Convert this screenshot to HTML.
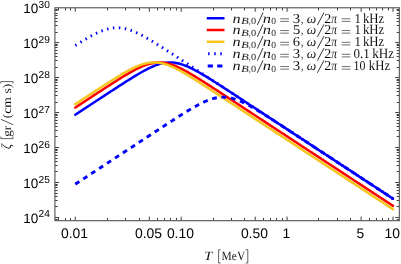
<!DOCTYPE html>
<html><head><meta charset="utf-8"><title>plot</title>
<style>html,body{margin:0;padding:0;background:#fff}svg{display:block}</style>
</head><body>
<svg width="401" height="264" viewBox="0 0 401 264">
<rect width="401" height="264" fill="#fff"/>
<g fill="none" stroke-width="2.50" stroke-linejoin="round">
<path d="M75.30,114.72 L76.62,113.85 L77.95,112.99 L79.27,112.12 L80.59,111.25 L81.92,110.38 L83.24,109.51 L84.57,108.64 L85.89,107.77 L87.21,106.91 L88.54,106.04 L89.86,105.17 L91.18,104.30 L92.51,103.43 L93.83,102.56 L95.16,101.70 L96.48,100.83 L97.80,99.96 L99.13,99.09 L100.45,98.23 L101.78,97.36 L103.10,96.49 L104.42,95.63 L105.75,94.76 L107.07,93.89 L108.39,93.03 L109.72,92.17 L111.04,91.30 L112.37,90.44 L113.69,89.58 L115.01,88.72 L116.34,87.86 L117.66,87.00 L118.98,86.15 L120.31,85.29 L121.63,84.44 L122.95,83.59 L124.28,82.75 L125.60,81.90 L126.93,81.06 L128.25,80.23 L129.57,79.40 L130.90,78.57 L132.22,77.75 L133.55,76.93 L134.87,76.13 L136.19,75.33 L137.52,74.54 L138.84,73.76 L140.16,72.99 L141.49,72.23 L142.81,71.49 L144.13,70.76 L145.46,70.05 L146.78,69.36 L148.11,68.69 L149.43,68.04 L150.75,67.41 L152.08,66.81 L153.40,66.24 L154.73,65.70 L156.05,65.20 L157.37,64.72 L158.70,64.29 L160.02,63.90 L161.34,63.55 L162.67,63.25 L163.99,62.99 L165.31,62.78 L166.64,62.62 L167.96,62.51 L169.29,62.45 L170.61,62.44 L171.93,62.49 L173.26,62.58 L174.58,62.73 L175.91,62.93 L177.23,63.17 L178.55,63.47 L179.88,63.80 L181.20,64.18 L182.52,64.61 L183.85,65.07 L185.17,65.56 L186.50,66.09 L187.82,66.66 L189.14,67.25 L190.47,67.87 L191.79,68.51 L193.11,69.18 L194.44,69.86 L195.76,70.57 L197.08,71.29 L198.41,72.03 L199.73,72.79 L201.06,73.55 L202.38,74.33 L203.70,75.12 L205.03,75.91 L206.35,76.72 L207.68,77.53 L209.00,78.35 L210.32,79.17 L211.65,80.00 L212.97,80.84 L214.29,81.68 L215.62,82.52 L216.94,83.36 L218.26,84.21 L219.59,85.06 L220.91,85.92 L222.24,86.77 L223.56,87.63 L224.88,88.49 L226.21,89.35 L227.53,90.21 L228.86,91.07 L230.18,91.93 L231.50,92.80 L232.83,93.66 L234.15,94.53 L235.47,95.39 L236.80,96.26 L238.12,97.13 L239.44,97.99 L240.77,98.86 L242.09,99.73 L243.42,100.60 L244.74,101.46 L246.06,102.33 L247.39,103.20 L248.71,104.07 L250.04,104.94 L251.36,105.80 L252.68,106.67 L254.01,107.54 L255.33,108.41 L256.65,109.28 L257.98,110.15 L259.30,111.02 L260.62,111.88 L261.95,112.75 L263.27,113.62 L264.60,114.49 L265.92,115.36 L267.24,116.23 L268.57,117.10 L269.89,117.96 L271.22,118.83 L272.54,119.70 L273.86,120.57 L275.19,121.44 L276.51,122.31 L277.83,123.18 L279.16,124.04 L280.48,124.91 L281.81,125.78 L283.13,126.65 L284.45,127.52 L285.78,128.39 L287.10,129.25 L288.42,130.12 L289.75,130.99 L291.07,131.86 L292.39,132.73 L293.72,133.60 L295.04,134.46 L296.37,135.33 L297.69,136.20 L299.01,137.07 L300.34,137.94 L301.66,138.81 L302.99,139.67 L304.31,140.54 L305.63,141.41 L306.96,142.28 L308.28,143.15 L309.60,144.01 L310.93,144.88 L312.25,145.75 L313.57,146.62 L314.90,147.49 L316.22,148.36 L317.55,149.22 L318.87,150.09 L320.19,150.96 L321.52,151.83 L322.84,152.70 L324.17,153.56 L325.49,154.43 L326.81,155.30 L328.14,156.17 L329.46,157.04 L330.78,157.90 L332.11,158.77 L333.43,159.64 L334.76,160.51 L336.08,161.38 L337.40,162.24 L338.73,163.11 L340.05,163.98 L341.37,164.85 L342.70,165.72 L344.02,166.58 L345.35,167.45 L346.67,168.32 L347.99,169.19 L349.32,170.06 L350.64,170.92 L351.96,171.79 L353.29,172.66 L354.61,173.53 L355.94,174.40 L357.26,175.26 L358.58,176.13 L359.91,177.00 L361.23,177.87 L362.55,178.74 L363.88,179.60 L365.20,180.47 L366.53,181.34 L367.85,182.21 L369.17,183.08 L370.50,183.94 L371.82,184.81 L373.14,185.68 L374.47,186.55 L375.79,187.42 L377.12,188.28 L378.44,189.15 L379.76,190.02 L381.09,190.89 L382.41,191.76 L383.73,192.62 L385.06,193.49 L386.38,194.36 L387.71,195.23 L389.03,196.10 L390.35,196.96 L391.68,197.83 L393.00,198.70" stroke="#0000ff" stroke-linecap="round"/>
<path d="M75.30,107.56 L76.62,106.69 L77.95,105.83 L79.27,104.96 L80.59,104.09 L81.92,103.22 L83.24,102.35 L84.57,101.49 L85.89,100.62 L87.21,99.75 L88.54,98.88 L89.86,98.01 L91.18,97.15 L92.51,96.28 L93.83,95.42 L95.16,94.55 L96.48,93.68 L97.80,92.82 L99.13,91.96 L100.45,91.09 L101.78,90.23 L103.10,89.37 L104.42,88.51 L105.75,87.65 L107.07,86.79 L108.39,85.94 L109.72,85.09 L111.04,84.23 L112.37,83.39 L113.69,82.54 L115.01,81.70 L116.34,80.86 L117.66,80.02 L118.98,79.19 L120.31,78.37 L121.63,77.55 L122.95,76.74 L124.28,75.93 L125.60,75.14 L126.93,74.35 L128.25,73.57 L129.57,72.80 L130.90,72.05 L132.22,71.31 L133.55,70.59 L134.87,69.88 L136.19,69.19 L137.52,68.53 L138.84,67.88 L140.16,67.26 L141.49,66.67 L142.81,66.11 L144.13,65.58 L145.46,65.08 L146.78,64.62 L148.11,64.19 L149.43,63.81 L150.75,63.47 L152.08,63.18 L153.40,62.93 L154.73,62.73 L156.05,62.59 L157.37,62.49 L158.70,62.44 L160.02,62.45 L161.34,62.51 L162.67,62.61 L163.99,62.77 L165.31,62.98 L166.64,63.24 L167.96,63.54 L169.29,63.89 L170.61,64.28 L171.93,64.71 L173.26,65.18 L174.58,65.69 L175.91,66.23 L177.23,66.80 L178.55,67.40 L179.88,68.02 L181.20,68.67 L182.52,69.34 L183.85,70.03 L185.17,70.74 L186.50,71.47 L187.82,72.21 L189.14,72.97 L190.47,73.74 L191.79,74.52 L193.11,75.31 L194.44,76.11 L195.76,76.91 L197.08,77.73 L198.41,78.55 L199.73,79.37 L201.06,80.21 L202.38,81.04 L203.70,81.88 L205.03,82.72 L206.35,83.57 L207.68,84.42 L209.00,85.27 L210.32,86.12 L211.65,86.98 L212.97,87.84 L214.29,88.70 L215.62,89.56 L216.94,90.42 L218.26,91.28 L219.59,92.14 L220.91,93.01 L222.24,93.87 L223.56,94.74 L224.88,95.60 L226.21,96.47 L227.53,97.34 L228.86,98.20 L230.18,99.07 L231.50,99.94 L232.83,100.81 L234.15,101.67 L235.47,102.54 L236.80,103.41 L238.12,104.28 L239.44,105.15 L240.77,106.02 L242.09,106.88 L243.42,107.75 L244.74,108.62 L246.06,109.49 L247.39,110.36 L248.71,111.23 L250.04,112.10 L251.36,112.96 L252.68,113.83 L254.01,114.70 L255.33,115.57 L256.65,116.44 L257.98,117.31 L259.30,118.18 L260.62,119.04 L261.95,119.91 L263.27,120.78 L264.60,121.65 L265.92,122.52 L267.24,123.39 L268.57,124.25 L269.89,125.12 L271.22,125.99 L272.54,126.86 L273.86,127.73 L275.19,128.60 L276.51,129.47 L277.83,130.33 L279.16,131.20 L280.48,132.07 L281.81,132.94 L283.13,133.81 L284.45,134.67 L285.78,135.54 L287.10,136.41 L288.42,137.28 L289.75,138.15 L291.07,139.02 L292.39,139.88 L293.72,140.75 L295.04,141.62 L296.37,142.49 L297.69,143.36 L299.01,144.22 L300.34,145.09 L301.66,145.96 L302.99,146.83 L304.31,147.70 L305.63,148.57 L306.96,149.43 L308.28,150.30 L309.60,151.17 L310.93,152.04 L312.25,152.91 L313.57,153.77 L314.90,154.64 L316.22,155.51 L317.55,156.38 L318.87,157.25 L320.19,158.11 L321.52,158.98 L322.84,159.85 L324.17,160.72 L325.49,161.59 L326.81,162.45 L328.14,163.32 L329.46,164.19 L330.78,165.06 L332.11,165.93 L333.43,166.79 L334.76,167.66 L336.08,168.53 L337.40,169.40 L338.73,170.27 L340.05,171.14 L341.37,172.00 L342.70,172.87 L344.02,173.74 L345.35,174.61 L346.67,175.48 L347.99,176.34 L349.32,177.21 L350.64,178.08 L351.96,178.95 L353.29,179.82 L354.61,180.68 L355.94,181.55 L357.26,182.42 L358.58,183.29 L359.91,184.16 L361.23,185.02 L362.55,185.89 L363.88,186.76 L365.20,187.63 L366.53,188.50 L367.85,189.36 L369.17,190.23 L370.50,191.10 L371.82,191.97 L373.14,192.84 L374.47,193.70 L375.79,194.57 L377.12,195.44 L378.44,196.31 L379.76,197.18 L381.09,198.04 L382.41,198.91 L383.73,199.78 L385.06,200.65 L386.38,201.52 L387.71,202.38 L389.03,203.25 L390.35,204.12 L391.68,204.99 L393.00,205.86" stroke="#ff0000" stroke-linecap="round"/>
<path d="M75.30,104.17 L76.62,103.30 L77.95,102.43 L79.27,101.56 L80.59,100.69 L81.92,99.83 L83.24,98.96 L84.57,98.09 L85.89,97.23 L87.21,96.36 L88.54,95.49 L89.86,94.63 L91.18,93.76 L92.51,92.90 L93.83,92.03 L95.16,91.17 L96.48,90.31 L97.80,89.45 L99.13,88.59 L100.45,87.73 L101.78,86.87 L103.10,86.02 L104.42,85.16 L105.75,84.31 L107.07,83.46 L108.39,82.62 L109.72,81.77 L111.04,80.93 L112.37,80.10 L113.69,79.27 L115.01,78.44 L116.34,77.62 L117.66,76.81 L118.98,76.00 L120.31,75.21 L121.63,74.42 L122.95,73.64 L124.28,72.87 L125.60,72.12 L126.93,71.38 L128.25,70.65 L129.57,69.94 L130.90,69.25 L132.22,68.59 L133.55,67.94 L134.87,67.32 L136.19,66.72 L137.52,66.16 L138.84,65.62 L140.16,65.12 L141.49,64.66 L142.81,64.23 L144.13,63.84 L145.46,63.50 L146.78,63.20 L148.11,62.95 L149.43,62.75 L150.75,62.60 L152.08,62.49 L153.40,62.44 L154.73,62.45 L156.05,62.50 L157.37,62.60 L158.70,62.76 L160.02,62.96 L161.34,63.21 L162.67,63.51 L163.99,63.86 L165.31,64.25 L166.64,64.67 L167.96,65.14 L169.29,65.64 L170.61,66.18 L171.93,66.74 L173.26,67.34 L174.58,67.96 L175.91,68.61 L177.23,69.28 L178.55,69.97 L179.88,70.68 L181.20,71.41 L182.52,72.15 L183.85,72.90 L185.17,73.67 L186.50,74.45 L187.82,75.24 L189.14,76.04 L190.47,76.84 L191.79,77.66 L193.11,78.47 L194.44,79.30 L195.76,80.13 L197.08,80.97 L198.41,81.81 L199.73,82.65 L201.06,83.49 L202.38,84.34 L203.70,85.19 L205.03,86.05 L206.35,86.90 L207.68,87.76 L209.00,88.62 L210.32,89.48 L211.65,90.34 L212.97,91.20 L214.29,92.07 L215.62,92.93 L216.94,93.80 L218.26,94.66 L219.59,95.53 L220.91,96.39 L222.24,97.26 L223.56,98.13 L224.88,98.99 L226.21,99.86 L227.53,100.73 L228.86,101.60 L230.18,102.46 L231.50,103.33 L232.83,104.20 L234.15,105.07 L235.47,105.94 L236.80,106.81 L238.12,107.67 L239.44,108.54 L240.77,109.41 L242.09,110.28 L243.42,111.15 L244.74,112.02 L246.06,112.89 L247.39,113.75 L248.71,114.62 L250.04,115.49 L251.36,116.36 L252.68,117.23 L254.01,118.10 L255.33,118.97 L256.65,119.83 L257.98,120.70 L259.30,121.57 L260.62,122.44 L261.95,123.31 L263.27,124.18 L264.60,125.05 L265.92,125.91 L267.24,126.78 L268.57,127.65 L269.89,128.52 L271.22,129.39 L272.54,130.26 L273.86,131.12 L275.19,131.99 L276.51,132.86 L277.83,133.73 L279.16,134.60 L280.48,135.47 L281.81,136.33 L283.13,137.20 L284.45,138.07 L285.78,138.94 L287.10,139.81 L288.42,140.67 L289.75,141.54 L291.07,142.41 L292.39,143.28 L293.72,144.15 L295.04,145.02 L296.37,145.88 L297.69,146.75 L299.01,147.62 L300.34,148.49 L301.66,149.36 L302.99,150.22 L304.31,151.09 L305.63,151.96 L306.96,152.83 L308.28,153.70 L309.60,154.56 L310.93,155.43 L312.25,156.30 L313.57,157.17 L314.90,158.04 L316.22,158.90 L317.55,159.77 L318.87,160.64 L320.19,161.51 L321.52,162.38 L322.84,163.25 L324.17,164.11 L325.49,164.98 L326.81,165.85 L328.14,166.72 L329.46,167.59 L330.78,168.45 L332.11,169.32 L333.43,170.19 L334.76,171.06 L336.08,171.93 L337.40,172.79 L338.73,173.66 L340.05,174.53 L341.37,175.40 L342.70,176.27 L344.02,177.13 L345.35,178.00 L346.67,178.87 L347.99,179.74 L349.32,180.61 L350.64,181.47 L351.96,182.34 L353.29,183.21 L354.61,184.08 L355.94,184.95 L357.26,185.81 L358.58,186.68 L359.91,187.55 L361.23,188.42 L362.55,189.29 L363.88,190.15 L365.20,191.02 L366.53,191.89 L367.85,192.76 L369.17,193.63 L370.50,194.49 L371.82,195.36 L373.14,196.23 L374.47,197.10 L375.79,197.97 L377.12,198.83 L378.44,199.70 L379.76,200.57 L381.09,201.44 L382.41,202.31 L383.73,203.17 L385.06,204.04 L386.38,204.91 L387.71,205.78 L389.03,206.65 L390.35,207.51 L391.68,208.38 L393.00,209.25" stroke="#f7c61e" stroke-linecap="round"/>
<path d="M75.30,45.51 L76.62,44.68 L77.95,43.85 L79.27,43.03 L80.59,42.21 L81.92,41.41 L83.24,40.61 L84.57,39.82 L85.89,39.04 L87.21,38.27 L88.54,37.51 L89.86,36.77 L91.18,36.04 L92.51,35.33 L93.83,34.64 L95.16,33.97 L96.48,33.32 L97.80,32.69 L99.13,32.09 L100.45,31.52 L101.78,30.98 L103.10,30.48 L104.42,30.00 L105.75,29.57 L107.07,29.18 L108.39,28.83 L109.72,28.53 L111.04,28.27 L112.37,28.06 L113.69,27.90 L115.01,27.79 L116.34,27.73 L117.66,27.72 L118.98,27.77 L120.31,27.86 L121.63,28.01 L122.95,28.21 L124.28,28.45 L125.60,28.75 L126.93,29.08 L128.25,29.46 L129.57,29.89 L130.90,30.35 L132.22,30.84 L133.55,31.37 L134.87,31.94 L136.19,32.53 L137.52,33.15 L138.84,33.79 L140.16,34.46 L141.49,35.14 L142.81,35.85 L144.13,36.57 L145.46,37.31 L146.78,38.07 L148.11,38.83 L149.43,39.61 L150.75,40.40 L152.08,41.19 L153.40,42.00 L154.73,42.81 L156.05,43.63 L157.37,44.45 L158.70,45.28 L160.02,46.12 L161.34,46.96 L162.67,47.80 L163.99,48.64 L165.31,49.49 L166.64,50.34 L167.96,51.20 L169.29,52.05 L170.61,52.91 L171.93,53.77 L173.26,54.63 L174.58,55.49 L175.91,56.35 L177.23,57.21 L178.55,58.08 L179.88,58.94 L181.20,59.81 L182.52,60.67 L183.85,61.54 L185.17,62.41 L186.50,63.27 L187.82,64.14 L189.14,65.01 L190.47,65.88 L191.79,66.74 L193.11,67.61 L194.44,68.48 L195.76,69.35 L197.08,70.22 L198.41,71.08 L199.73,71.95 L201.06,72.82 L202.38,73.69 L203.70,74.56 L205.03,75.43 L206.35,76.30 L207.68,77.16 L209.00,78.03 L210.32,78.90 L211.65,79.77 L212.97,80.64 L214.29,81.51 L215.62,82.38 L216.94,83.24 L218.26,84.11 L219.59,84.98 L220.91,85.85 L222.24,86.72 L223.56,87.59 L224.88,88.46 L226.21,89.32 L227.53,90.19 L228.86,91.06 L230.18,91.93 L231.50,92.80 L232.83,93.67 L234.15,94.53 L235.47,95.40 L236.80,96.27 L238.12,97.14 L239.44,98.01 L240.77,98.88 L242.09,99.74 L243.42,100.61 L244.74,101.48 L246.06,102.35 L247.39,103.22 L248.71,104.09 L250.04,104.95 L251.36,105.82 L252.68,106.69 L254.01,107.56 L255.33,108.43 L256.65,109.29 L257.98,110.16 L259.30,111.03 L260.62,111.90 L261.95,112.77 L263.27,113.64 L264.60,114.50 L265.92,115.37 L267.24,116.24 L268.57,117.11 L269.89,117.98 L271.22,118.84 L272.54,119.71 L273.86,120.58 L275.19,121.45 L276.51,122.32 L277.83,123.18 L279.16,124.05 L280.48,124.92 L281.81,125.79 L283.13,126.66 L284.45,127.52 L285.78,128.39 L287.10,129.26 L288.42,130.13 L289.75,131.00 L291.07,131.86 L292.39,132.73 L293.72,133.60 L295.04,134.47 L296.37,135.34 L297.69,136.20 L299.01,137.07 L300.34,137.94 L301.66,138.81 L302.99,139.68 L304.31,140.54 L305.63,141.41 L306.96,142.28 L308.28,143.15 L309.60,144.02 L310.93,144.88 L312.25,145.75 L313.57,146.62 L314.90,147.49 L316.22,148.36 L317.55,149.22 L318.87,150.09 L320.19,150.96 L321.52,151.83 L322.84,152.70 L324.17,153.56 L325.49,154.43 L326.81,155.30 L328.14,156.17 L329.46,157.04 L330.78,157.90 L332.11,158.77 L333.43,159.64 L334.76,160.51 L336.08,161.38 L337.40,162.24 L338.73,163.11 L340.05,163.98 L341.37,164.85 L342.70,165.72 L344.02,166.58 L345.35,167.45 L346.67,168.32 L347.99,169.19 L349.32,170.06 L350.64,170.92 L351.96,171.79 L353.29,172.66 L354.61,173.53 L355.94,174.40 L357.26,175.26 L358.58,176.13 L359.91,177.00 L361.23,177.87 L362.55,178.74 L363.88,179.60 L365.20,180.47 L366.53,181.34 L367.85,182.21 L369.17,183.08 L370.50,183.94 L371.82,184.81 L373.14,185.68 L374.47,186.55 L375.79,187.42 L377.12,188.28 L378.44,189.15 L379.76,190.02 L381.09,190.89 L382.41,191.76 L383.73,192.63 L385.06,193.49 L386.38,194.36 L387.71,195.23 L389.03,196.10 L390.35,196.97 L391.68,197.83 L393.00,198.70" stroke="#0000ff" stroke-dasharray="1.5 4.47" stroke-width="2.9"/>
<path d="M75.30,184.18 L76.62,183.31 L77.95,182.44 L79.27,181.57 L80.59,180.70 L81.92,179.83 L83.24,178.97 L84.57,178.10 L85.89,177.23 L87.21,176.36 L88.54,175.49 L89.86,174.63 L91.18,173.76 L92.51,172.89 L93.83,172.02 L95.16,171.15 L96.48,170.28 L97.80,169.42 L99.13,168.55 L100.45,167.68 L101.78,166.81 L103.10,165.94 L104.42,165.08 L105.75,164.21 L107.07,163.34 L108.39,162.47 L109.72,161.60 L111.04,160.73 L112.37,159.86 L113.69,159.00 L115.01,158.13 L116.34,157.26 L117.66,156.39 L118.98,155.52 L120.31,154.65 L121.63,153.79 L122.95,152.92 L124.28,152.05 L125.60,151.18 L126.93,150.31 L128.25,149.44 L129.57,148.57 L130.90,147.71 L132.22,146.84 L133.55,145.97 L134.87,145.10 L136.19,144.23 L137.52,143.36 L138.84,142.49 L140.16,141.63 L141.49,140.76 L142.81,139.89 L144.13,139.02 L145.46,138.15 L146.78,137.28 L148.11,136.42 L149.43,135.55 L150.75,134.68 L152.08,133.81 L153.40,132.95 L154.73,132.08 L156.05,131.21 L157.37,130.35 L158.70,129.48 L160.02,128.61 L161.34,127.75 L162.67,126.89 L163.99,126.02 L165.31,125.16 L166.64,124.30 L167.96,123.44 L169.29,122.58 L170.61,121.72 L171.93,120.87 L173.26,120.01 L174.58,119.16 L175.91,118.31 L177.23,117.47 L178.55,116.62 L179.88,115.78 L181.20,114.95 L182.52,114.12 L183.85,113.29 L185.17,112.47 L186.50,111.65 L187.82,110.85 L189.14,110.05 L190.47,109.26 L191.79,108.48 L193.11,107.71 L194.44,106.95 L195.76,106.21 L197.08,105.48 L198.41,104.77 L199.73,104.08 L201.06,103.41 L202.38,102.76 L203.70,102.13 L205.03,101.53 L206.35,100.96 L207.68,100.42 L209.00,99.92 L210.32,99.44 L211.65,99.01 L212.97,98.62 L214.29,98.27 L215.62,97.97 L216.94,97.71 L218.26,97.50 L219.59,97.34 L220.91,97.23 L222.24,97.17 L223.56,97.16 L224.88,97.21 L226.21,97.30 L227.53,97.45 L228.86,97.65 L230.18,97.89 L231.50,98.19 L232.83,98.52 L234.15,98.90 L235.47,99.33 L236.80,99.79 L238.12,100.28 L239.44,100.81 L240.77,101.38 L242.09,101.97 L243.42,102.59 L244.74,103.23 L246.06,103.90 L247.39,104.58 L248.71,105.29 L250.04,106.01 L251.36,106.75 L252.68,107.51 L254.01,108.27 L255.33,109.05 L256.65,109.84 L257.98,110.63 L259.30,111.44 L260.62,112.25 L261.95,113.07 L263.27,113.89 L264.60,114.72 L265.92,115.56 L267.24,116.40 L268.57,117.24 L269.89,118.08 L271.22,118.93 L272.54,119.78 L273.86,120.64 L275.19,121.49 L276.51,122.35 L277.83,123.21 L279.16,124.07 L280.48,124.93 L281.81,125.79 L283.13,126.65 L284.45,127.52 L285.78,128.38 L287.10,129.25 L288.42,130.11 L289.75,130.98 L291.07,131.85 L292.39,132.71 L293.72,133.58 L295.04,134.45 L296.37,135.32 L297.69,136.18 L299.01,137.05 L300.34,137.92 L301.66,138.79 L302.99,139.66 L304.31,140.52 L305.63,141.39 L306.96,142.26 L308.28,143.13 L309.60,144.00 L310.93,144.87 L312.25,145.74 L313.57,146.60 L314.90,147.47 L316.22,148.34 L317.55,149.21 L318.87,150.08 L320.19,150.95 L321.52,151.82 L322.84,152.68 L324.17,153.55 L325.49,154.42 L326.81,155.29 L328.14,156.16 L329.46,157.03 L330.78,157.90 L332.11,158.76 L333.43,159.63 L334.76,160.50 L336.08,161.37 L337.40,162.24 L338.73,163.11 L340.05,163.97 L341.37,164.84 L342.70,165.71 L344.02,166.58 L345.35,167.45 L346.67,168.32 L347.99,169.18 L349.32,170.05 L350.64,170.92 L351.96,171.79 L353.29,172.66 L354.61,173.53 L355.94,174.39 L357.26,175.26 L358.58,176.13 L359.91,177.00 L361.23,177.87 L362.55,178.73 L363.88,179.60 L365.20,180.47 L366.53,181.34 L367.85,182.21 L369.17,183.08 L370.50,183.94 L371.82,184.81 L373.14,185.68 L374.47,186.55 L375.79,187.42 L377.12,188.28 L378.44,189.15 L379.76,190.02 L381.09,190.89 L382.41,191.76 L383.73,192.62 L385.06,193.49 L386.38,194.36 L387.71,195.23 L389.03,196.10 L390.35,196.96 L391.68,197.83 L393.00,198.70" stroke="#0000ff" stroke-dasharray="4.8 4.7" stroke-width="2.9"/>
</g>
<path d="M58.50,220.65 v-2.70 M58.50,7.75 v2.70 M65.50,220.65 v-2.70 M65.50,7.75 v2.70 M70.50,220.65 v-2.70 M70.50,7.75 v2.70 M75.30,220.65 v-4.00 M75.30,7.75 v4.00 M107.50,220.65 v-2.70 M107.50,7.75 v2.70 M125.50,220.65 v-2.70 M125.50,7.75 v2.70 M139.50,220.65 v-2.70 M139.50,7.75 v2.70 M149.32,220.65 v-4.00 M149.32,7.75 v4.00 M157.50,220.65 v-2.70 M157.50,7.75 v2.70 M164.50,220.65 v-2.70 M164.50,7.75 v2.70 M170.50,220.65 v-2.70 M170.50,7.75 v2.70 M176.50,220.65 v-2.70 M176.50,7.75 v2.70 M181.20,220.65 v-4.00 M181.20,7.75 v4.00 M213.50,220.65 v-2.70 M213.50,7.75 v2.70 M231.50,220.65 v-2.70 M231.50,7.75 v2.70 M244.50,220.65 v-2.70 M244.50,7.75 v2.70 M255.22,220.65 v-4.00 M255.22,7.75 v4.00 M263.50,220.65 v-2.70 M263.50,7.75 v2.70 M270.50,220.65 v-2.70 M270.50,7.75 v2.70 M276.50,220.65 v-2.70 M276.50,7.75 v2.70 M282.50,220.65 v-2.70 M282.50,7.75 v2.70 M287.10,220.65 v-4.00 M287.10,7.75 v4.00 M318.50,220.65 v-2.70 M318.50,7.75 v2.70 M337.50,220.65 v-2.70 M337.50,7.75 v2.70 M350.50,220.65 v-2.70 M350.50,7.75 v2.70 M361.12,220.65 v-4.00 M361.12,7.75 v4.00 M369.50,220.65 v-2.70 M369.50,7.75 v2.70 M376.50,220.65 v-2.70 M376.50,7.75 v2.70 M382.50,220.65 v-2.70 M382.50,7.75 v2.70 M388.50,220.65 v-2.70 M388.50,7.75 v2.70 M393.00,220.65 v-4.00 M393.00,7.75 v4.00 M54.90,219.50 h2.70 M399.40,219.50 h-2.70 M54.90,217.48 h4.20 M399.40,217.48 h-4.20 M54.90,206.50 h2.70 M399.40,206.50 h-2.70 M54.90,200.50 h2.70 M399.40,200.50 h-2.70 M54.90,196.50 h2.70 M399.40,196.50 h-2.70 M54.90,193.50 h2.70 M399.40,193.50 h-2.70 M54.90,190.50 h2.70 M399.40,190.50 h-2.70 M54.90,187.50 h2.70 M399.40,187.50 h-2.70 M54.90,185.50 h2.70 M399.40,185.50 h-2.70 M54.90,184.50 h2.70 M399.40,184.50 h-2.70 M54.90,182.50 h4.20 M399.40,182.50 h-4.20 M54.90,171.50 h2.70 M399.40,171.50 h-2.70 M54.90,165.50 h2.70 M399.40,165.50 h-2.70 M54.90,161.50 h2.70 M399.40,161.50 h-2.70 M54.90,158.50 h2.70 M399.40,158.50 h-2.70 M54.90,155.50 h2.70 M399.40,155.50 h-2.70 M54.90,152.50 h2.70 M399.40,152.50 h-2.70 M54.90,150.50 h2.70 M399.40,150.50 h-2.70 M54.90,149.50 h2.70 M399.40,149.50 h-2.70 M54.90,147.52 h4.20 M399.40,147.52 h-4.20 M54.90,136.50 h2.70 M399.40,136.50 h-2.70 M54.90,130.50 h2.70 M399.40,130.50 h-2.70 M54.90,126.50 h2.70 M399.40,126.50 h-2.70 M54.90,123.50 h2.70 M399.40,123.50 h-2.70 M54.90,120.50 h2.70 M399.40,120.50 h-2.70 M54.90,117.50 h2.70 M399.40,117.50 h-2.70 M54.90,115.50 h2.70 M399.40,115.50 h-2.70 M54.90,114.50 h2.70 M399.40,114.50 h-2.70 M54.90,112.54 h4.20 M399.40,112.54 h-4.20 M54.90,102.50 h2.70 M399.40,102.50 h-2.70 M54.90,95.50 h2.70 M399.40,95.50 h-2.70 M54.90,91.50 h2.70 M399.40,91.50 h-2.70 M54.90,88.50 h2.70 M399.40,88.50 h-2.70 M54.90,85.50 h2.70 M399.40,85.50 h-2.70 M54.90,82.50 h2.70 M399.40,82.50 h-2.70 M54.90,80.50 h2.70 M399.40,80.50 h-2.70 M54.90,79.50 h2.70 M399.40,79.50 h-2.70 M54.90,77.56 h4.20 M399.40,77.56 h-4.20 M54.90,67.50 h2.70 M399.40,67.50 h-2.70 M54.90,60.50 h2.70 M399.40,60.50 h-2.70 M54.90,56.50 h2.70 M399.40,56.50 h-2.70 M54.90,53.50 h2.70 M399.40,53.50 h-2.70 M54.90,50.50 h2.70 M399.40,50.50 h-2.70 M54.90,47.50 h2.70 M399.40,47.50 h-2.70 M54.90,45.50 h2.70 M399.40,45.50 h-2.70 M54.90,44.50 h2.70 M399.40,44.50 h-2.70 M54.90,42.58 h4.20 M399.40,42.58 h-4.20 M54.90,32.50 h2.70 M399.40,32.50 h-2.70 M54.90,25.50 h2.70 M399.40,25.50 h-2.70 M54.90,21.50 h2.70 M399.40,21.50 h-2.70 M54.90,18.50 h2.70 M399.40,18.50 h-2.70 M54.90,15.50 h2.70 M399.40,15.50 h-2.70 M54.90,13.50 h2.70 M399.40,13.50 h-2.70 M54.90,10.50 h2.70 M399.40,10.50 h-2.70 M54.90,9.50 h2.70 M399.40,9.50 h-2.70" stroke="#3c3c3c" stroke-width="1" fill="none"/>
<rect x="54.90" y="7.75" width="344.50" height="212.90" fill="none" stroke="#666" stroke-width="1.25"/>
<g font-family="'Liberation Sans', sans-serif" fill="#000" style="text-rendering:geometricPrecision;filter:grayscale(1)">
<text x="74.50" y="237.6" font-size="13.9" text-anchor="middle">0.01</text>
<text x="148.52" y="237.6" font-size="13.9" text-anchor="middle">0.05</text>
<text x="180.40" y="237.6" font-size="13.9" text-anchor="middle">0.10</text>
<text x="254.42" y="237.6" font-size="13.9" text-anchor="middle">0.50</text>
<text x="286.30" y="237.6" font-size="13.9" text-anchor="middle">1</text>
<text x="360.32" y="237.6" font-size="13.9" text-anchor="middle">5</text>
<text x="392.20" y="237.6" font-size="13.9" text-anchor="middle">10</text>
<text x="38.3" y="223.33" font-size="13.5" text-anchor="end">10</text>
<text x="38.6" y="217.48" font-size="10.2">24</text>
<text x="38.3" y="188.35" font-size="13.5" text-anchor="end">10</text>
<text x="38.6" y="182.50" font-size="10.2">25</text>
<text x="38.3" y="153.37" font-size="13.5" text-anchor="end">10</text>
<text x="38.6" y="147.52" font-size="10.2">26</text>
<text x="38.3" y="118.39" font-size="13.5" text-anchor="end">10</text>
<text x="38.6" y="112.54" font-size="10.2">27</text>
<text x="38.3" y="83.41" font-size="13.5" text-anchor="end">10</text>
<text x="38.6" y="77.56" font-size="10.2">28</text>
<text x="38.3" y="48.43" font-size="13.5" text-anchor="end">10</text>
<text x="38.6" y="42.58" font-size="10.2">29</text>
<text x="38.3" y="13.45" font-size="13.5" text-anchor="end">10</text>
<text x="38.6" y="7.60" font-size="10.2">30</text>
</g>
<path d="M220.7,249.7 H218.6 V263.0 H220.7 M245.7,249.7 H247.8 V263.0 H245.7" stroke="#111" stroke-width="0.65" fill="none"/>
<path d="M13.3,124.8 L0.9,119.3" stroke="#111" stroke-width="0.7" fill="none"/>
<path d="M0.8,136.6 V138.6 H13.0 V136.6 M0.8,83.6 V81.6 H13.0 V83.6" stroke="#111" stroke-width="0.65" fill="none"/>
<path d="M206.75,18.25 H224.5" stroke="#0000ff" stroke-width="2.5" fill="none"/>
<path d="M257.3,25.10 L263.0,12.60" stroke="#000" stroke-width="0.8"/>
<path d="M280.2,18.80 H288.9 M280.2,21.40 H288.9" stroke="#111" stroke-width="0.6"/>
<path d="M317.4,25.10 L324.0,12.60" stroke="#000" stroke-width="0.8"/>
<path d="M341.7,18.80 H350.4 M341.7,21.40 H350.4" stroke="#111" stroke-width="0.6"/>
<path d="M206.75,30.00 H224.5" stroke="#ff0000" stroke-width="2.5" fill="none"/>
<path d="M257.3,36.85 L263.0,24.35" stroke="#000" stroke-width="0.8"/>
<path d="M280.2,30.55 H288.9 M280.2,33.15 H288.9" stroke="#111" stroke-width="0.6"/>
<path d="M317.4,36.85 L324.0,24.35" stroke="#000" stroke-width="0.8"/>
<path d="M341.7,30.55 H350.4 M341.7,33.15 H350.4" stroke="#111" stroke-width="0.6"/>
<path d="M206.75,41.75 H224.5" stroke="#f7c61e" stroke-width="2.5" fill="none"/>
<path d="M257.3,48.60 L263.0,36.10" stroke="#000" stroke-width="0.8"/>
<path d="M280.2,42.30 H288.9 M280.2,44.90 H288.9" stroke="#111" stroke-width="0.6"/>
<path d="M317.4,48.60 L324.0,36.10" stroke="#000" stroke-width="0.8"/>
<path d="M341.7,42.30 H350.4 M341.7,44.90 H350.4" stroke="#111" stroke-width="0.6"/>
<path d="M208.10,53.75 H224.5" stroke="#0000ff" stroke-width="3.0" fill="none" stroke-dasharray="1.5 4.6"/>
<path d="M257.3,60.60 L263.0,48.10" stroke="#000" stroke-width="0.8"/>
<path d="M280.2,54.30 H288.9 M280.2,56.90 H288.9" stroke="#111" stroke-width="0.6"/>
<path d="M317.4,60.60 L324.0,48.10" stroke="#000" stroke-width="0.8"/>
<path d="M341.7,54.30 H350.4 M341.7,56.90 H350.4" stroke="#111" stroke-width="0.6"/>
<path d="M207.70,66.00 H224.5" stroke="#0000ff" stroke-width="3.0" fill="none" stroke-dasharray="5.2 4.3"/>
<path d="M257.3,72.85 L263.0,60.35" stroke="#000" stroke-width="0.8"/>
<path d="M280.2,66.55 H288.9 M280.2,69.15 H288.9" stroke="#111" stroke-width="0.6"/>
<path d="M317.4,72.85 L324.0,60.35" stroke="#000" stroke-width="0.8"/>
<path d="M341.7,66.55 H350.4 M341.7,69.15 H350.4" stroke="#111" stroke-width="0.6"/>
<g fill="#000" stroke="#fff" stroke-width="0.06" opacity="0.999" style="text-rendering:geometricPrecision">
<text transform="translate(204.10,259.80) scale(1.1719,1)" font-family="'Liberation Serif', serif" font-size="12.80" font-style="italic">T</text>
<text transform="translate(221.57,259.80) scale(0.8992,1)" font-family="'Liberation Serif', serif" font-size="12.80">MeV</text>
<text transform="translate(10.60,148.20) rotate(-90) translate(-0.99,0) scale(0.9253,1)" font-family="'Liberation Serif', serif" font-size="14.00" font-style="italic">ζ</text>
<text transform="translate(10.60,148.20) rotate(-90) translate(11.47,0) scale(1.0970,1)" font-family="'Liberation Serif', serif" font-size="12.00">gr</text>
<text transform="translate(10.60,148.20) rotate(-90) translate(29.85,0) scale(1.1423,1)" font-family="'Liberation Serif', serif" font-size="12.00">(cm s)</text>
<text transform="translate(232.61,22.70) scale(1.2059,1)" font-family="'Liberation Serif', serif" font-size="13.50" font-style="italic">n</text>
<text transform="translate(241.00,24.40) scale(1.3704,1)" font-family="'Liberation Serif', serif" font-size="9.40" font-style="italic">B</text>
<text transform="translate(248.66,24.40) scale(0.8644,1)" font-family="'Liberation Serif', serif" font-size="9.40">,</text>
<text transform="translate(250.99,24.40) scale(1.0880,1)" font-family="'Liberation Serif', serif" font-size="9.40">0</text>
<text transform="translate(262.80,22.70) scale(1.2231,1)" font-family="'Liberation Serif', serif" font-size="13.50" font-style="italic">n</text>
<text transform="translate(271.21,24.40) scale(1.0155,1)" font-family="'Liberation Serif', serif" font-size="9.40">0</text>
<text transform="translate(292.80,22.70) scale(1.1025,1)" font-family="'Liberation Serif', serif" font-size="13.50">3</text>
<text transform="translate(301.04,22.70) scale(0.6481,1)" font-family="'Liberation Serif', serif" font-size="13.50">,</text>
<text transform="translate(306.70,22.70) scale(0.9954,1)" font-family="'Liberation Serif', serif" font-size="13.50" font-style="italic">ω</text>
<text transform="translate(324.24,22.70) scale(1.0298,1)" font-family="'Liberation Serif', serif" font-size="13.50">2</text>
<text transform="translate(331.30,22.70) scale(0.8526,1)" font-family="'Liberation Serif', serif" font-size="13.50" font-style="italic">π</text>
<text transform="translate(354.48,22.70) scale(0.9465,1)" font-family="'Liberation Serif', serif" font-size="13.50">1</text>
<text transform="translate(362.97,22.70) scale(0.8974,1)" font-family="'Liberation Serif', serif" font-size="14.20">kHz</text>
<text transform="translate(232.61,34.45) scale(1.2059,1)" font-family="'Liberation Serif', serif" font-size="13.50" font-style="italic">n</text>
<text transform="translate(241.00,36.15) scale(1.3704,1)" font-family="'Liberation Serif', serif" font-size="9.40" font-style="italic">B</text>
<text transform="translate(248.66,36.15) scale(0.8644,1)" font-family="'Liberation Serif', serif" font-size="9.40">,</text>
<text transform="translate(250.99,36.15) scale(1.0880,1)" font-family="'Liberation Serif', serif" font-size="9.40">0</text>
<text transform="translate(262.80,34.45) scale(1.2231,1)" font-family="'Liberation Serif', serif" font-size="13.50" font-style="italic">n</text>
<text transform="translate(271.21,36.15) scale(1.0155,1)" font-family="'Liberation Serif', serif" font-size="9.40">0</text>
<text transform="translate(292.64,34.45) scale(1.1287,1)" font-family="'Liberation Serif', serif" font-size="13.50">5</text>
<text transform="translate(301.04,34.45) scale(0.6481,1)" font-family="'Liberation Serif', serif" font-size="13.50">,</text>
<text transform="translate(306.70,34.45) scale(0.9954,1)" font-family="'Liberation Serif', serif" font-size="13.50" font-style="italic">ω</text>
<text transform="translate(324.24,34.45) scale(1.0298,1)" font-family="'Liberation Serif', serif" font-size="13.50">2</text>
<text transform="translate(331.30,34.45) scale(0.8526,1)" font-family="'Liberation Serif', serif" font-size="13.50" font-style="italic">π</text>
<text transform="translate(354.48,34.45) scale(0.9465,1)" font-family="'Liberation Serif', serif" font-size="13.50">1</text>
<text transform="translate(362.97,34.45) scale(0.8974,1)" font-family="'Liberation Serif', serif" font-size="14.20">kHz</text>
<text transform="translate(232.61,46.20) scale(1.2059,1)" font-family="'Liberation Serif', serif" font-size="13.50" font-style="italic">n</text>
<text transform="translate(241.00,47.90) scale(1.3704,1)" font-family="'Liberation Serif', serif" font-size="9.40" font-style="italic">B</text>
<text transform="translate(248.66,47.90) scale(0.8644,1)" font-family="'Liberation Serif', serif" font-size="9.40">,</text>
<text transform="translate(250.99,47.90) scale(1.0880,1)" font-family="'Liberation Serif', serif" font-size="9.40">0</text>
<text transform="translate(262.80,46.20) scale(1.2231,1)" font-family="'Liberation Serif', serif" font-size="13.50" font-style="italic">n</text>
<text transform="translate(271.21,47.90) scale(1.0155,1)" font-family="'Liberation Serif', serif" font-size="9.40">0</text>
<text transform="translate(292.82,46.20) scale(1.0774,1)" font-family="'Liberation Serif', serif" font-size="13.50">6</text>
<text transform="translate(301.04,46.20) scale(0.6481,1)" font-family="'Liberation Serif', serif" font-size="13.50">,</text>
<text transform="translate(306.70,46.20) scale(0.9954,1)" font-family="'Liberation Serif', serif" font-size="13.50" font-style="italic">ω</text>
<text transform="translate(324.24,46.20) scale(1.0298,1)" font-family="'Liberation Serif', serif" font-size="13.50">2</text>
<text transform="translate(331.30,46.20) scale(0.8526,1)" font-family="'Liberation Serif', serif" font-size="13.50" font-style="italic">π</text>
<text transform="translate(354.48,46.20) scale(0.9465,1)" font-family="'Liberation Serif', serif" font-size="13.50">1</text>
<text transform="translate(362.97,46.20) scale(0.8974,1)" font-family="'Liberation Serif', serif" font-size="14.20">kHz</text>
<text transform="translate(232.61,58.20) scale(1.2059,1)" font-family="'Liberation Serif', serif" font-size="13.50" font-style="italic">n</text>
<text transform="translate(241.00,59.90) scale(1.3704,1)" font-family="'Liberation Serif', serif" font-size="9.40" font-style="italic">B</text>
<text transform="translate(248.66,59.90) scale(0.8644,1)" font-family="'Liberation Serif', serif" font-size="9.40">,</text>
<text transform="translate(250.99,59.90) scale(1.0880,1)" font-family="'Liberation Serif', serif" font-size="9.40">0</text>
<text transform="translate(262.80,58.20) scale(1.2231,1)" font-family="'Liberation Serif', serif" font-size="13.50" font-style="italic">n</text>
<text transform="translate(271.21,59.90) scale(1.0155,1)" font-family="'Liberation Serif', serif" font-size="9.40">0</text>
<text transform="translate(292.80,58.20) scale(1.1025,1)" font-family="'Liberation Serif', serif" font-size="13.50">3</text>
<text transform="translate(301.04,58.20) scale(0.6481,1)" font-family="'Liberation Serif', serif" font-size="13.50">,</text>
<text transform="translate(306.70,58.20) scale(0.9954,1)" font-family="'Liberation Serif', serif" font-size="13.50" font-style="italic">ω</text>
<text transform="translate(324.24,58.20) scale(1.0298,1)" font-family="'Liberation Serif', serif" font-size="13.50">2</text>
<text transform="translate(331.30,58.20) scale(0.8526,1)" font-family="'Liberation Serif', serif" font-size="13.50" font-style="italic">π</text>
<text transform="translate(353.51,58.20) scale(0.9642,1)" font-family="'Liberation Serif', serif" font-size="13.50">0.1</text>
<text transform="translate(372.27,58.20) scale(0.9277,1)" font-family="'Liberation Serif', serif" font-size="14.20">kHz</text>
<text transform="translate(232.61,70.45) scale(1.2059,1)" font-family="'Liberation Serif', serif" font-size="13.50" font-style="italic">n</text>
<text transform="translate(241.00,72.15) scale(1.3704,1)" font-family="'Liberation Serif', serif" font-size="9.40" font-style="italic">B</text>
<text transform="translate(248.66,72.15) scale(0.8644,1)" font-family="'Liberation Serif', serif" font-size="9.40">,</text>
<text transform="translate(250.99,72.15) scale(1.0880,1)" font-family="'Liberation Serif', serif" font-size="9.40">0</text>
<text transform="translate(262.80,70.45) scale(1.2231,1)" font-family="'Liberation Serif', serif" font-size="13.50" font-style="italic">n</text>
<text transform="translate(271.21,72.15) scale(1.0155,1)" font-family="'Liberation Serif', serif" font-size="9.40">0</text>
<text transform="translate(292.80,70.45) scale(1.1025,1)" font-family="'Liberation Serif', serif" font-size="13.50">3</text>
<text transform="translate(301.04,70.45) scale(0.6481,1)" font-family="'Liberation Serif', serif" font-size="13.50">,</text>
<text transform="translate(306.70,70.45) scale(0.9954,1)" font-family="'Liberation Serif', serif" font-size="13.50" font-style="italic">ω</text>
<text transform="translate(324.24,70.45) scale(1.0298,1)" font-family="'Liberation Serif', serif" font-size="13.50">2</text>
<text transform="translate(331.30,70.45) scale(0.8526,1)" font-family="'Liberation Serif', serif" font-size="13.50" font-style="italic">π</text>
<text transform="translate(353.55,70.45) scale(0.8822,1)" font-family="'Liberation Serif', serif" font-size="13.50">10</text>
<text transform="translate(368.87,70.45) scale(0.8974,1)" font-family="'Liberation Serif', serif" font-size="14.20">kHz</text>
</g>
</svg>
</body></html>
